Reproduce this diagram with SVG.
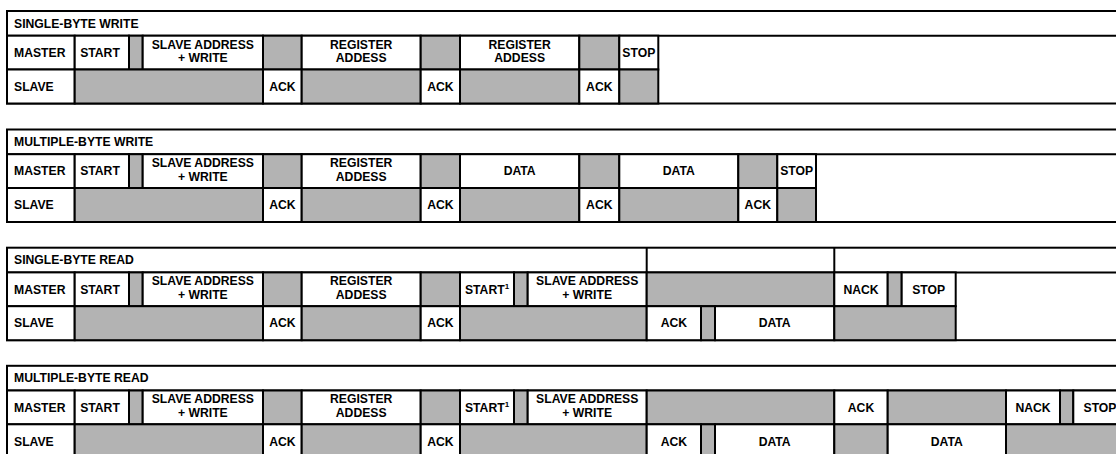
<svg xmlns="http://www.w3.org/2000/svg" width="1116" height="454" viewBox="0 0 1116 454">
<style>
rect{stroke:#000;stroke-width:2}
.bg{fill:#fff;stroke:none}
.w{fill:#fff}
.g{fill:#b3b3b3}
line{stroke:#000;stroke-width:2}
text{font-family:"Liberation Sans",Arial,sans-serif;font-weight:bold;font-size:12.2px;fill:#000}
.m{text-anchor:middle}
</style>
<rect class="bg" x="0" y="0" width="1116" height="454"/>

<g id="single-byte-write" transform="translate(0,11)">
<rect class="w" x="7" y="0" width="1125" height="92.5"/>
<line x1="7" y1="24.7" x2="1130" y2="24.7"/>
<rect class="w" x="7" y="24.7" width="67.7" height="33.8"/>
<rect class="w" x="74.7" y="24.7" width="54.3" height="33.8"/>
<rect class="g" x="129" y="24.7" width="13.7" height="33.8"/>
<rect class="w" x="142.7" y="24.7" width="120.3" height="33.8"/>
<rect class="g" x="263" y="24.7" width="38.7" height="33.8"/>
<rect class="w" x="301.7" y="24.7" width="119" height="33.8"/>
<rect class="g" x="420.7" y="24.7" width="39.3" height="33.8"/>
<rect class="w" x="460" y="24.7" width="119.3" height="33.8"/>
<rect class="g" x="579.3" y="24.7" width="40" height="33.8"/>
<rect class="w" x="619.3" y="24.7" width="39" height="33.8"/>
<rect class="w" x="7" y="58.5" width="67.7" height="34"/>
<rect class="g" x="74.7" y="58.5" width="188.3" height="34"/>
<rect class="w" x="263" y="58.5" width="38.7" height="34"/>
<rect class="g" x="301.7" y="58.5" width="119" height="34"/>
<rect class="w" x="420.7" y="58.5" width="39.3" height="34"/>
<rect class="g" x="460" y="58.5" width="119.3" height="34"/>
<rect class="w" x="579.3" y="58.5" width="40" height="34"/>
<rect class="g" x="619.3" y="58.5" width="39" height="34"/>
<text x="14" y="16.7">SINGLE-BYTE WRITE</text>
<text x="14" y="45.9">MASTER</text>
<text class="m" x="100" y="45.9">START</text>
<text class="m" x="202.85" y="37.5">SLAVE ADDRESS</text>
<text class="m" x="202.85" y="51">+ WRITE</text>
<text class="m" x="361.2" y="37.5">REGISTER</text>
<text class="m" x="361.2" y="51">ADDESS</text>
<text class="m" x="519.65" y="37.5">REGISTER</text>
<text class="m" x="519.65" y="51">ADDESS</text>
<text class="m" x="638.8" y="45.9">STOP</text>
<text x="14" y="79.8">SLAVE</text>
<text class="m" x="282.35" y="79.8">ACK</text>
<text class="m" x="440.35" y="79.8">ACK</text>
<text class="m" x="599.3" y="79.8">ACK</text>
</g>

<g id="multiple-byte-write" transform="translate(0,129.5)">
<rect class="w" x="7" y="0" width="1125" height="92.5"/>
<line x1="7" y1="24.7" x2="1130" y2="24.7"/>
<rect class="w" x="7" y="24.7" width="67.7" height="33.8"/>
<rect class="w" x="74.7" y="24.7" width="54.3" height="33.8"/>
<rect class="g" x="129" y="24.7" width="13.7" height="33.8"/>
<rect class="w" x="142.7" y="24.7" width="120.3" height="33.8"/>
<rect class="g" x="263" y="24.7" width="38.7" height="33.8"/>
<rect class="w" x="301.7" y="24.7" width="119" height="33.8"/>
<rect class="g" x="420.7" y="24.7" width="39.3" height="33.8"/>
<rect class="w" x="460" y="24.7" width="119.3" height="33.8"/>
<rect class="g" x="579.3" y="24.7" width="40" height="33.8"/>
<rect class="w" x="619.3" y="24.7" width="119" height="33.8"/>
<rect class="g" x="738.3" y="24.7" width="39" height="33.8"/>
<rect class="w" x="777.3" y="24.7" width="38.7" height="33.8"/>
<rect class="w" x="7" y="58.5" width="67.7" height="34"/>
<rect class="g" x="74.7" y="58.5" width="188.3" height="34"/>
<rect class="w" x="263" y="58.5" width="38.7" height="34"/>
<rect class="g" x="301.7" y="58.5" width="119" height="34"/>
<rect class="w" x="420.7" y="58.5" width="39.3" height="34"/>
<rect class="g" x="460" y="58.5" width="119.3" height="34"/>
<rect class="w" x="579.3" y="58.5" width="40" height="34"/>
<rect class="g" x="619.3" y="58.5" width="119" height="34"/>
<rect class="w" x="738.3" y="58.5" width="39" height="34"/>
<rect class="g" x="777.3" y="58.5" width="38.7" height="34"/>
<text x="14" y="16.7">MULTIPLE-BYTE WRITE</text>
<text x="14" y="45.9">MASTER</text>
<text class="m" x="100" y="45.9">START</text>
<text class="m" x="202.85" y="37.5">SLAVE ADDRESS</text>
<text class="m" x="202.85" y="51">+ WRITE</text>
<text class="m" x="361.2" y="37.5">REGISTER</text>
<text class="m" x="361.2" y="51">ADDESS</text>
<text class="m" x="519.65" y="45.9">DATA</text>
<text class="m" x="678.8" y="45.9">DATA</text>
<text class="m" x="796.65" y="45.9">STOP</text>
<text x="14" y="79.8">SLAVE</text>
<text class="m" x="282.35" y="79.8">ACK</text>
<text class="m" x="440.35" y="79.8">ACK</text>
<text class="m" x="599.3" y="79.8">ACK</text>
<text class="m" x="757.8" y="79.8">ACK</text>
</g>

<g id="single-byte-read" transform="translate(0,247.7)">
<rect class="w" x="7" y="0" width="1125" height="92.5"/>
<line x1="7" y1="24.7" x2="1130" y2="24.7"/>
<line x1="646.7" y1="0" x2="646.7" y2="24.7"/>
<line x1="834.3" y1="0" x2="834.3" y2="24.7"/>
<rect class="w" x="7" y="24.7" width="67.7" height="33.8"/>
<rect class="w" x="74.7" y="24.7" width="54.3" height="33.8"/>
<rect class="g" x="129" y="24.7" width="13.7" height="33.8"/>
<rect class="w" x="142.7" y="24.7" width="120.3" height="33.8"/>
<rect class="g" x="263" y="24.7" width="38.7" height="33.8"/>
<rect class="w" x="301.7" y="24.7" width="119" height="33.8"/>
<rect class="g" x="420.7" y="24.7" width="39.3" height="33.8"/>
<rect class="w" x="460" y="24.7" width="54" height="33.8"/>
<rect class="g" x="514" y="24.7" width="13.7" height="33.8"/>
<rect class="w" x="527.7" y="24.7" width="119" height="33.8"/>
<rect class="g" x="646.7" y="24.7" width="187.6" height="33.8"/>
<rect class="w" x="834.3" y="24.7" width="53.4" height="33.8"/>
<rect class="g" x="887.7" y="24.7" width="14" height="33.8"/>
<rect class="w" x="901.7" y="24.7" width="54" height="33.8"/>
<rect class="w" x="7" y="58.5" width="67.7" height="34"/>
<rect class="g" x="74.7" y="58.5" width="188.3" height="34"/>
<rect class="w" x="263" y="58.5" width="38.7" height="34"/>
<rect class="g" x="301.7" y="58.5" width="119" height="34"/>
<rect class="w" x="420.7" y="58.5" width="39.3" height="34"/>
<rect class="g" x="460" y="58.5" width="186.7" height="34"/>
<rect class="w" x="646.7" y="58.5" width="54.3" height="34"/>
<rect class="g" x="701" y="58.5" width="14" height="34"/>
<rect class="w" x="715" y="58.5" width="119.3" height="34"/>
<rect class="g" x="834.3" y="58.5" width="121.4" height="34"/>
<text x="14" y="16.7">SINGLE-BYTE READ</text>
<text x="14" y="45.9">MASTER</text>
<text class="m" x="100" y="45.9">START</text>
<text class="m" x="202.85" y="37.5">SLAVE ADDRESS</text>
<text class="m" x="202.85" y="51">+ WRITE</text>
<text class="m" x="361.2" y="37.5">REGISTER</text>
<text class="m" x="361.2" y="51">ADDESS</text>
<text class="m" x="487" y="45.9">START<tspan dy="-5" font-size="8">1</tspan></text>
<text class="m" x="587.2" y="37.5">SLAVE ADDRESS</text>
<text class="m" x="587.2" y="51">+ WRITE</text>
<text class="m" x="861" y="45.9">NACK</text>
<text class="m" x="928.7" y="45.9">STOP</text>
<text x="14" y="79.8">SLAVE</text>
<text class="m" x="282.35" y="79.8">ACK</text>
<text class="m" x="440.35" y="79.8">ACK</text>
<text class="m" x="673.85" y="79.8">ACK</text>
<text class="m" x="774.65" y="79.8">DATA</text>
</g>

<g id="multiple-byte-read" transform="translate(0,365.8)">
<rect class="w" x="7" y="0" width="1125" height="92.5"/>
<line x1="7" y1="24.7" x2="1130" y2="24.7"/>
<rect class="w" x="7" y="24.7" width="67.7" height="33.8"/>
<rect class="w" x="74.7" y="24.7" width="54.3" height="33.8"/>
<rect class="g" x="129" y="24.7" width="13.7" height="33.8"/>
<rect class="w" x="142.7" y="24.7" width="120.3" height="33.8"/>
<rect class="g" x="263" y="24.7" width="38.7" height="33.8"/>
<rect class="w" x="301.7" y="24.7" width="119" height="33.8"/>
<rect class="g" x="420.7" y="24.7" width="39.3" height="33.8"/>
<rect class="w" x="460" y="24.7" width="54" height="33.8"/>
<rect class="g" x="514" y="24.7" width="13.7" height="33.8"/>
<rect class="w" x="527.7" y="24.7" width="119" height="33.8"/>
<rect class="g" x="646.7" y="24.7" width="187.6" height="33.8"/>
<rect class="w" x="834.3" y="24.7" width="53.4" height="33.8"/>
<rect class="g" x="887.7" y="24.7" width="118.3" height="33.8"/>
<rect class="w" x="1006" y="24.7" width="54" height="33.8"/>
<rect class="g" x="1060" y="24.7" width="13.3" height="33.8"/>
<rect class="w" x="1073.3" y="24.7" width="60" height="33.8"/>
<rect class="w" x="7" y="58.5" width="67.7" height="34"/>
<rect class="g" x="74.7" y="58.5" width="188.3" height="34"/>
<rect class="w" x="263" y="58.5" width="38.7" height="34"/>
<rect class="g" x="301.7" y="58.5" width="119" height="34"/>
<rect class="w" x="420.7" y="58.5" width="39.3" height="34"/>
<rect class="g" x="460" y="58.5" width="186.7" height="34"/>
<rect class="w" x="646.7" y="58.5" width="54.3" height="34"/>
<rect class="g" x="701" y="58.5" width="14" height="34"/>
<rect class="w" x="715" y="58.5" width="119.3" height="34"/>
<rect class="g" x="834.3" y="58.5" width="53.4" height="34"/>
<rect class="w" x="887.7" y="58.5" width="118.3" height="34"/>
<rect class="g" x="1006" y="58.5" width="127" height="34"/>
<text x="14" y="16.7">MULTIPLE-BYTE READ</text>
<text x="14" y="45.9">MASTER</text>
<text class="m" x="100" y="45.9">START</text>
<text class="m" x="202.85" y="37.5">SLAVE ADDRESS</text>
<text class="m" x="202.85" y="51">+ WRITE</text>
<text class="m" x="361.2" y="37.5">REGISTER</text>
<text class="m" x="361.2" y="51">ADDESS</text>
<text class="m" x="487" y="45.9">START<tspan dy="-5" font-size="8">1</tspan></text>
<text class="m" x="587.2" y="37.5">SLAVE ADDRESS</text>
<text class="m" x="587.2" y="51">+ WRITE</text>
<text class="m" x="861" y="45.9">ACK</text>
<text class="m" x="1033" y="45.9">NACK</text>
<text x="1083.5" y="45.9">STOP</text>
<text x="14" y="79.8">SLAVE</text>
<text class="m" x="282.35" y="79.8">ACK</text>
<text class="m" x="440.35" y="79.8">ACK</text>
<text class="m" x="673.85" y="79.8">ACK</text>
<text class="m" x="774.65" y="79.8">DATA</text>
<text class="m" x="946.85" y="79.8">DATA</text>
</g>
</svg>
